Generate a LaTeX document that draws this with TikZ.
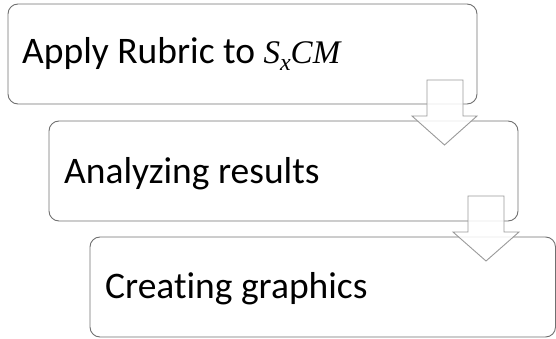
\documentclass[tikz,border=0pt]{standalone}
\usepackage{fontspec}
\setmainfont{Carlito}[Ligatures=NoCommon]
\newfontfamily\cambriaish{Liberation Serif}
\tikzset{
  x=1pt, y=-1pt,
  stepbox/.style={draw=boxgray, line width=0.9pt, rounded corners=10pt, fill=white},
  flowarrow/.style={draw=arrowgray, line width=0.9pt, fill=white, fill opacity=0.85},
  boxtext/.style={anchor=base west, inner sep=0pt, font=\fontsize{37.5}{37.5}\selectfont}
}
\definecolor{boxgray}{HTML}{707070}
\definecolor{arrowgray}{HTML}{9A9A9A}
\newcommand{\downarrowshape}[7]{%
  % #1 shaft left, #2 shaft right, #3 shaft top, #4 head left, #5 head right, #6 head base, #7 tip y
  \draw[flowarrow] (#1,#3) -- (#2,#3) -- (#2,#6) -- (#5,#6) -- ({(#4+#5)/2},#7) -- (#4,#6) -- (#1,#6) -- cycle;
}
\begin{document}
\begin{tikzpicture}
\useasboundingbox (0,0) rectangle (556,339);
% three stacked steps
\draw[stepbox] (8,4) rectangle (477,104);
\draw[stepbox] (49,121) rectangle (518,221);
\draw[stepbox] (90,237) rectangle (555.5,337);
\node[boxtext] (t1) at (22,63.5) {Apply Rubric to {\cambriaish\itshape\fontsize{33}{33}\selectfont S\raisebox{-0.22em}{\fontsize{24}{24}\selectfont x}CM}};
\node[boxtext] (t2) at (64,183) {Analyzing results};
\node[boxtext] (t3) at (105,298) {Creating graphics};
% block arrows between steps
\downarrowshape{427}{463}{80}{412}{477}{116}{145}
\downarrowshape{468}{504}{196}{453}{519}{232}{261}
\end{tikzpicture}
\end{document}
